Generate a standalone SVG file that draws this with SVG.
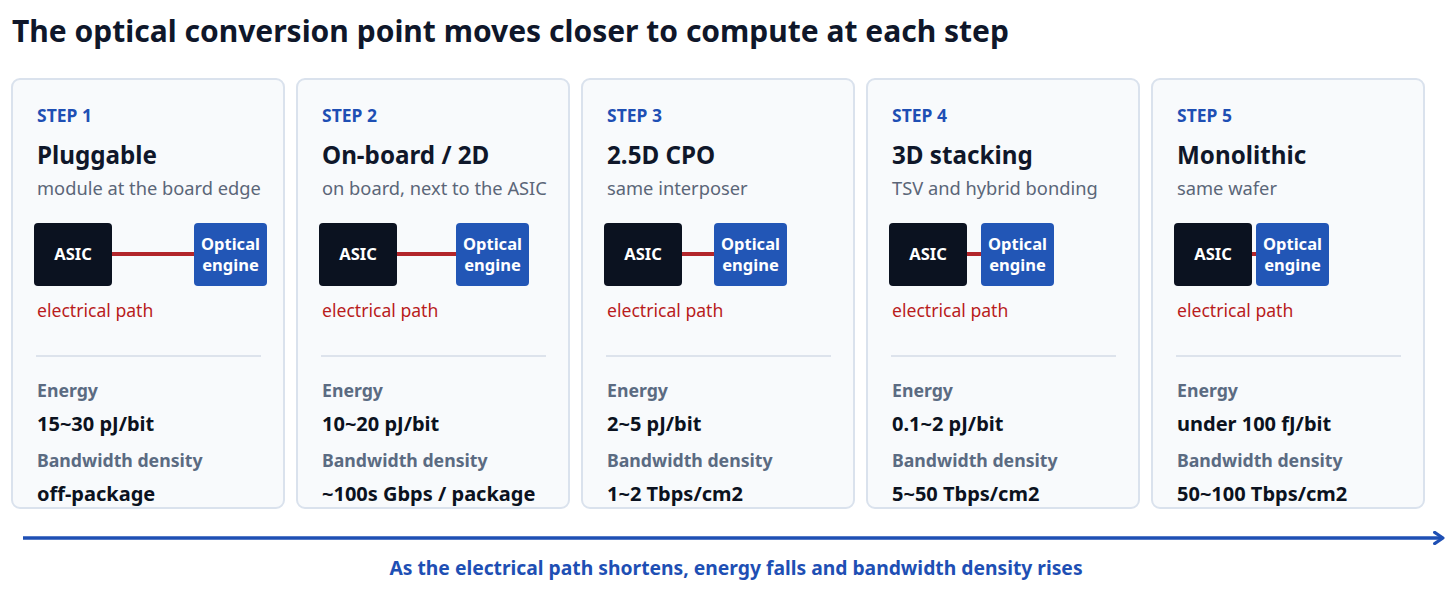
<svg xmlns="http://www.w3.org/2000/svg" width="1456" height="591" viewBox="0 0 1456 591">
<defs>
<style>
text{font-family:"Noto Sans","Open Sans","Liberation Sans",sans-serif}
.title{font-size:30px;font-weight:700;fill:#0f172a}
.card{fill:#f8fafc;stroke:#dae2ed;stroke-width:2}
.step{font-size:17.5px;font-weight:700;fill:#1e4fb4}
.name{font-size:24.2px;font-weight:700;fill:#0f172a}
.sub{font-size:18.3px;fill:#5b6678}
.asic{fill:#0b1220}
.opt{fill:#2256b6}
.box{font-size:16.5px;font-weight:700;fill:#ffffff;text-anchor:middle}
.elec{font-size:17.6px;fill:#b91c1c}
.div{stroke:#dde3ec;stroke-width:2}
.lab{font-size:17.7px;font-weight:700;fill:#5b6b82}
.val{font-size:20px;font-weight:700;fill:#0b1220}
.wire{stroke:#b3262b;stroke-width:4}
.axis{stroke:#1e4fb4;stroke-width:3.5;fill:none}
.cap{font-size:19.3px;font-weight:700;fill:#1e4fb4;text-anchor:middle}
</style>
<marker id="ah" viewBox="0 0 10 10" refX="7" refY="5" markerWidth="4" markerHeight="4" orient="auto" markerUnits="strokeWidth">
<path d="M1,1 L7,5 L1,9" fill="none" stroke="#1e4fb4" stroke-width="2.2" stroke-linecap="round" stroke-linejoin="round"/>
</marker>
</defs>
<rect width="1456" height="591" fill="#ffffff"/>
<text class="title" x="12" y="42">The optical conversion point moves closer to compute at each step</text>

<g id="step1" transform="translate(12,79)">
<rect class="card" x="0" y="0" width="272" height="429" rx="8"/>
<text class="step" x="25" y="43">STEP 1</text>
<text class="name" x="25" y="85">Pluggable</text>
<text class="sub" x="25" y="116">module at the board edge</text>
<g id="step1-asic"><rect class="asic" x="22" y="144" width="78" height="63" rx="4"/><text class="box" x="61" y="181">ASIC</text></g>
<g id="step1-optical"><rect class="opt" x="182" y="144" width="73" height="63" rx="4"/><text class="box" x="218.5" y="171">Optical</text><text class="box" x="218.5" y="192">engine</text></g>
<text class="elec" x="25" y="238">electrical path</text>
<line class="div" x1="24" y1="277" x2="249" y2="277"/>
<text class="lab" x="25" y="318">Energy</text>
<text class="val" x="25" y="352">15~30 pJ/bit</text>
<text class="lab" x="25" y="388">Bandwidth density</text>
<text class="val" x="25" y="422">off-package</text>
</g>

<g id="step2" transform="translate(297,79)">
<rect class="card" x="0" y="0" width="272" height="429" rx="8"/>
<text class="step" x="25" y="43">STEP 2</text>
<text class="name" x="25" y="85">On-board / 2D</text>
<text class="sub" x="25" y="116">on board, next to the ASIC</text>
<g id="step2-asic"><rect class="asic" x="22" y="144" width="78" height="63" rx="4"/><text class="box" x="61" y="181">ASIC</text></g>
<g id="step2-optical"><rect class="opt" x="159" y="144" width="73" height="63" rx="4"/><text class="box" x="195.5" y="171">Optical</text><text class="box" x="195.5" y="192">engine</text></g>
<text class="elec" x="25" y="238">electrical path</text>
<line class="div" x1="24" y1="277" x2="249" y2="277"/>
<text class="lab" x="25" y="318">Energy</text>
<text class="val" x="25" y="352">10~20 pJ/bit</text>
<text class="lab" x="25" y="388">Bandwidth density</text>
<text class="val" x="25" y="422">~100s Gbps / package</text>
</g>

<g id="step3" transform="translate(582,79)">
<rect class="card" x="0" y="0" width="272" height="429" rx="8"/>
<text class="step" x="25" y="43">STEP 3</text>
<text class="name" x="25" y="85">2.5D CPO</text>
<text class="sub" x="25" y="116">same interposer</text>
<g id="step3-asic"><rect class="asic" x="22" y="144" width="78" height="63" rx="4"/><text class="box" x="61" y="181">ASIC</text></g>
<g id="step3-optical"><rect class="opt" x="132" y="144" width="73" height="63" rx="4"/><text class="box" x="168.5" y="171">Optical</text><text class="box" x="168.5" y="192">engine</text></g>
<text class="elec" x="25" y="238">electrical path</text>
<line class="div" x1="24" y1="277" x2="249" y2="277"/>
<text class="lab" x="25" y="318">Energy</text>
<text class="val" x="25" y="352">2~5 pJ/bit</text>
<text class="lab" x="25" y="388">Bandwidth density</text>
<text class="val" x="25" y="422">1~2 Tbps/cm2</text>
</g>

<g id="step4" transform="translate(867,79)">
<rect class="card" x="0" y="0" width="272" height="429" rx="8"/>
<text class="step" x="25" y="43">STEP 4</text>
<text class="name" x="25" y="85">3D stacking</text>
<text class="sub" x="25" y="116">TSV and hybrid bonding</text>
<g id="step4-asic"><rect class="asic" x="22" y="144" width="78" height="63" rx="4"/><text class="box" x="61" y="181">ASIC</text></g>
<g id="step4-optical"><rect class="opt" x="114" y="144" width="73" height="63" rx="4"/><text class="box" x="150.5" y="171">Optical</text><text class="box" x="150.5" y="192">engine</text></g>
<text class="elec" x="25" y="238">electrical path</text>
<line class="div" x1="24" y1="277" x2="249" y2="277"/>
<text class="lab" x="25" y="318">Energy</text>
<text class="val" x="25" y="352">0.1~2 pJ/bit</text>
<text class="lab" x="25" y="388">Bandwidth density</text>
<text class="val" x="25" y="422">5~50 Tbps/cm2</text>
</g>

<g id="step5" transform="translate(1152,79)">
<rect class="card" x="0" y="0" width="272" height="429" rx="8"/>
<text class="step" x="25" y="43">STEP 5</text>
<text class="name" x="25" y="85">Monolithic</text>
<text class="sub" x="25" y="116">same wafer</text>
<g id="step5-asic"><rect class="asic" x="22" y="144" width="78" height="63" rx="4"/><text class="box" x="61" y="181">ASIC</text></g>
<g id="step5-optical"><rect class="opt" x="104" y="144" width="73" height="63" rx="4"/><text class="box" x="140.5" y="171">Optical</text><text class="box" x="140.5" y="192">engine</text></g>
<text class="elec" x="25" y="238">electrical path</text>
<line class="div" x1="24" y1="277" x2="249" y2="277"/>
<text class="lab" x="25" y="318">Energy</text>
<text class="val" x="25" y="352">under 100 fJ/bit</text>
<text class="lab" x="25" y="388">Bandwidth density</text>
<text class="val" x="25" y="422">50~100 Tbps/cm2</text>
</g>

<g id="connectors">
<line class="wire" x1="112" y1="254" x2="194" y2="254"/>
<line class="wire" x1="397" y1="254" x2="456" y2="254"/>
<line class="wire" x1="682" y1="254" x2="714" y2="254"/>
<line class="wire" x1="967" y1="254" x2="981" y2="254"/>
<line class="wire" x1="1252" y1="254" x2="1256" y2="254"/>
<line class="axis" x1="23" y1="538" x2="1443" y2="538" marker-end="url(#ah)"/>
</g>
<text class="cap" x="736" y="575">As the electrical path shortens, energy falls and bandwidth density rises</text>
</svg>
